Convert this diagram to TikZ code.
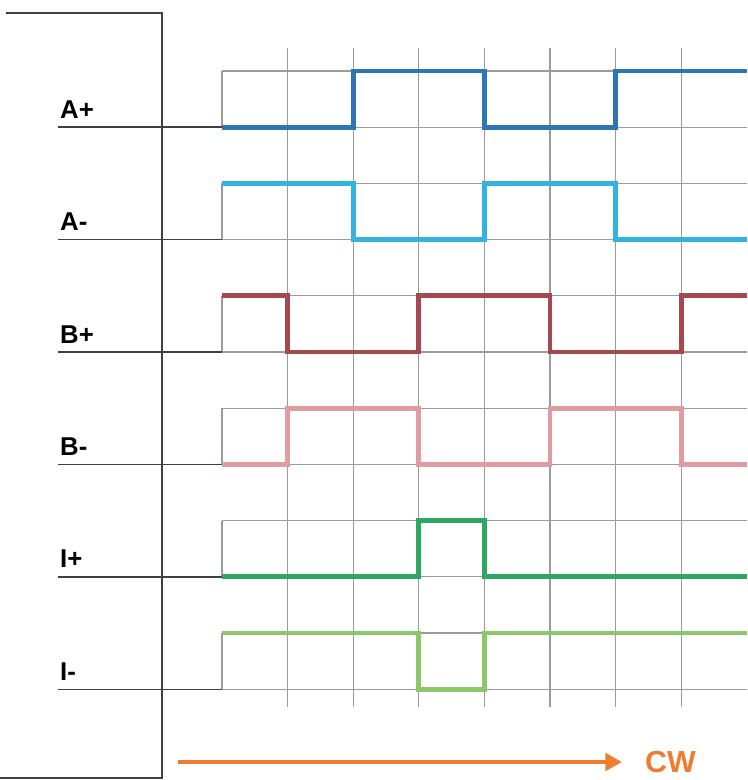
\documentclass[tikz,border=0pt]{standalone}
\usepackage{fontspec}
\setmainfont{Liberation Sans}
\usepackage{tikz}
\usetikzlibrary{arrows.meta, positioning}
\definecolor{frameclr}{RGB}{64,64,64}
\definecolor{gridclr}{RGB}{155,155,155}
\definecolor{apclr}{RGB}{46,117,182}
\definecolor{amclr}{RGB}{52,178,224}
\definecolor{bpclr}{RGB}{166,72,80}
\definecolor{bmclr}{RGB}{224,156,158}
\definecolor{ipclr}{RGB}{46,168,96}
\definecolor{imclr}{RGB}{140,200,106}
\definecolor{cwclr}{RGB}{237,125,49}

\begin{document}
\begin{tikzpicture}[x=0.03cm, y=-0.03cm,
      frame/.style={draw=frameclr, line width=1.6pt},
      base/.style={draw=frameclr, line width=1.2pt},
      grid/.style={draw=gridclr, line width=0.9pt},
      sig/.style={line width=4.2pt, line join=miter},
      lbl/.style={anchor=base west, inner sep=0pt, font=\fontsize{22}{26}\selectfont\bfseries},
      arr/.style={-{Triangle[length=0.5cm, width=0.52cm]}, draw=cwclr, line width=4pt}
    ]
      \useasboundingbox (0,0) rectangle (747,780);

      % frame
      \draw[frame] (6,13) -- (162,13) -- (162,778) -- (0,778);

      % vertical grid
      \foreach \i in {1,...,7}
        \draw[grid] ({222+65.6*\i},48) -- ({222+65.6*\i},707);

      % channels: label / row / colour / first level / levels per cell
      \foreach \lab/\k/\clr/\fst/\bits in {
          A+/0/apclr/0/{0,0,1,1,0,0,1,1},
          A-/1/amclr/1/{1,1,0,0,1,1,0,0},
          B+/2/bpclr/1/{1,0,0,1,1,0,0,1},
          B-/3/bmclr/0/{0,1,1,0,0,1,1,0},
          I+/4/ipclr/0/{0,0,0,1,0,0,0,0},
          I-/5/imclr/1/{1,1,1,0,1,1,1,1}} {
        \pgfmathsetmacro{\yb}{127.2+112.4*\k}
        \draw[grid] (222,\yb-56.2) -- (747,\yb-56.2);
        \draw[grid] (222,\yb) -- (747,\yb);
        \draw[grid] (222,\yb-56.2) -- (222,\yb);
        \draw[base] (58,\yb) -- (222,\yb);
        \node[lbl] (lbl\k) at (60,\yb-9) {\lab};
        \draw[sig, \clr] (222,\yb-56.2*\fst)
          \foreach \v [count=\i] in \bits {
            -- ({222+65.6*(\i-1)},{\yb-56.2*\v}) -- ({222+65.6*\i},{\yb-56.2*\v})
          };
      }

      % direction
      \coordinate (cwstart) at (178,762);
      \node[inner sep=0pt, anchor=west, text=cwclr,
            font=\fontsize{26}{30}\selectfont\bfseries] (cw) at (645,762) {CW};
      \draw[arr] (cwstart) -- ([xshift=-0.69cm]cw.west);
    \end{tikzpicture}
\end{document}
